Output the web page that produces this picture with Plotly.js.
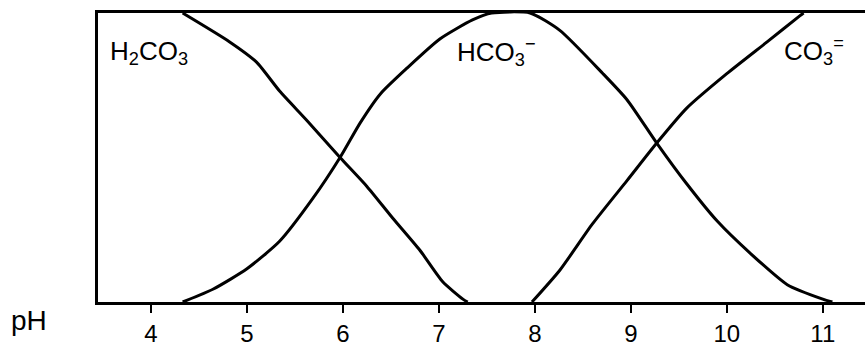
<!DOCTYPE html>
<html>
<head>
<meta charset="utf-8">
<script src="https://cdn.plot.ly/plotly-3.0.1.min.js"></script>
<style>
  html, body { margin: 0; padding: 0; background: #fff; }
  #chart { width: 865px; height: 349px; }
</style>
</head>
<body>
<div id="chart"></div>
<script>
// --- Carbonate species fractions vs pH ---
const phH2CO3 = [4.33, 4.82, 5.10, 5.34, 5.62, 5.97, 6.25, 6.52, 6.80, 7.04, 7.25, 7.30];
const fracH2CO3 = [1.0, 0.90, 0.83, 0.73, 0.63, 0.50, 0.40, 0.29, 0.18, 0.07, 0.01, 0.0];

const phHCO3 = [4.33, 4.65, 5.00, 5.34, 5.69, 5.97, 6.18, 6.39, 6.67, 7.01, 7.35, 7.55,
                7.95, 8.26, 8.71, 8.96, 9.27, 9.58, 9.90, 10.24, 10.63, 11.0, 11.1];
const fracHCO3 = [0.0, 0.045, 0.115, 0.21, 0.36, 0.50, 0.62, 0.72, 0.81, 0.91, 0.976, 1.0,
                  1.0, 0.94, 0.79, 0.70, 0.55, 0.41, 0.28, 0.17, 0.06, 0.01, 0.0];

const phCO3 = [7.97, 8.26, 8.60, 8.96, 9.27, 9.58, 10.0, 10.42, 10.76, 10.8];
const fracCO3 = [0.0, 0.11, 0.27, 0.42, 0.55, 0.67, 0.79, 0.90, 0.99, 1.0];

const tickVals = [4, 5, 6, 7, 8, 9, 10, 11];

// species labels: [text, pH at left edge, fraction]
const speciesLabels = [
  ['H<sub>2</sub>CO<sub>3</sub>', 3.55, 0.865],
  ['HCO<sub>3</sub><sup>\u2212</sup>', 7.17, 0.865],
  ['CO<sub>3</sub><sup>=</sup>', 10.57, 0.87]
];

const FONT = 'Liberation Sans, DejaVu Sans, sans-serif';

function curve(x, y) {
  return {
    x: x, y: y, type: 'scatter', mode: 'lines',
    line: { color: '#000', width: 3, shape: 'spline', smoothing: 0.6 },
    showlegend: false, hoverinfo: 'skip'
  };
}

const traces = [
  curve(phH2CO3, fracH2CO3),
  curve(phHCO3, fracHCO3),
  curve(phCO3, fracCO3)
];

const annotations = speciesLabels.map(l => ({
  x: l[1], y: l[2], xref: 'x', yref: 'y',
  text: l[0], showarrow: false, xanchor: 'left', yanchor: 'middle',
  font: { family: FONT, size: 26, color: '#000' }
}));
annotations.push({
  x: -0.09, y: -0.065, xref: 'paper', yref: 'paper',
  xanchor: 'center', yanchor: 'middle',
  text: 'pH', showarrow: false,
  font: { family: FONT, size: 28, color: '#000' }
});

Plotly.newPlot('chart', traces, {
  width: 865, height: 349,
  paper_bgcolor: '#fff', plot_bgcolor: '#fff',
  margin: { l: 98, r: 0, t: 13, b: 47 },
  xaxis: {
    range: [3.448, 11.44], tickvals: tickVals,
    showgrid: false, zeroline: false,
    showline: true, linecolor: '#000', linewidth: 3, mirror: true,
    ticks: 'outside', ticklen: 8, tickwidth: 2, tickcolor: '#000',
    ticklabelstandoff: 0,
    tickfont: { family: FONT, size: 24, color: '#000' }
  },
  yaxis: {
    range: [0, 1], showgrid: false, zeroline: false,
    showline: true, linecolor: '#000', linewidth: 3,
    showticklabels: false, ticks: ''
  },
  annotations: annotations
}, { displayModeBar: false, staticPlot: true });
</script>
</body>
</html>
